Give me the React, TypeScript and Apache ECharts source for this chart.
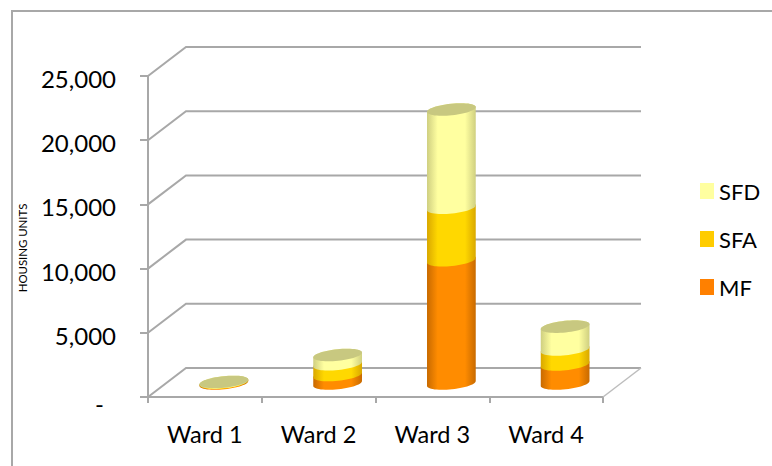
import React, { useEffect, useRef } from "react";
import * as echarts from "echarts";

const categories = ["Ward 1", "Ward 2", "Ward 3", "Ward 4"];
const mf = [60, 660, 9600, 1480];
const sfa = [30, 840, 4090, 1170];
const sfd = [30, 720, 7650, 1780];
const yTicks = [0, 5000, 10000, 15000, 20000, 25000];
const axisMax = 25000;
const axisStep = 5000;
const seriesNames = ["MF", "SFA", "SFD"];
const legendOrder = ["SFD", "SFA", "MF"];
const swatchColors = ["#FF8000", "#FFCC00", "#FFFFA0"];
const centerColors = ["#FF8C00", "#FFD800", "#FFFFA0"];
const edgeColors = ["#C86A00", "#D9A800", "#CFCF80"];

const DEPTH_X = 38;
const DEPTH_Y = 29;
const RX = 24.5;
const RY = 5.8;
const TILT = (-6 * Math.PI) / 180;
const GRAY = "#A8A8A8";
const FONT = "Lato";

function arc(cx: number, cy: number, from: number, to: number) {
  const pts: number[][] = [];
  const n = 28;
  for (let i = 0; i <= n; i++) {
    const t = from + ((to - from) * i) / n;
    const ex = RX * Math.cos(t);
    const ey = RY * Math.sin(t);
    pts.push([cx + ex * Math.cos(TILT) - ey * Math.sin(TILT), cy + ex * Math.sin(TILT) + ey * Math.cos(TILT)]);
  }
  return pts;
}

function stacked(level: number) {
  return categories.map((_, i) => {
    const base = level === 0 ? 0 : level === 1 ? mf[i] : mf[i] + sfa[i];
    const own = [mf, sfa, sfd][level][i];
    return [i, base + own, base];
  });
}

function cylinderSeries(level: number) {
  return {
    type: "custom",
    name: seriesNames[level],
    itemStyle: { color: swatchColors[level] },
    encode: { x: 0, y: 1 },
    data: stacked(level),
    renderItem: (_p: any, api: any) => {
      const idx = api.value(0);
      const topPt = api.coord([idx, api.value(1)]);
      const basePt = api.coord([idx, api.value(2)]);
      const cx = topPt[0] + DEPTH_X / 2;
      const yTop = topPt[1] - DEPTH_Y / 2 + 1;
      const yBase = basePt[1] - DEPTH_Y / 2 + 1;
      const body = [...arc(cx, yBase, Math.PI, 0), ...arc(cx, yTop, 0, -Math.PI)];
      const fill = new echarts.graphic.LinearGradient(0, 0, 1, 0, [
        { offset: 0, color: edgeColors[level] },
        { offset: 0.22, color: centerColors[level] },
        { offset: 0.78, color: centerColors[level] },
        { offset: 1, color: edgeColors[level] },
      ]);
      const children: any[] = [{ type: "polygon", shape: { points: body }, style: { fill } }];
      if (level === 2) {
        children.push({
          type: "polygon",
          shape: { points: [...arc(cx, yTop, 0, Math.PI), ...arc(cx, yTop, Math.PI, 2 * Math.PI)] },
          style: { fill: "#C8C880" },
        });
      }
      return { type: "group", children };
    },
  };
}

const wallSeries = {
  type: "custom",
  name: "walls",
  silent: true,
  encode: { x: 0, y: 1 },
  data: yTicks.map((v) => [0, v]),
  renderItem: (params: any, api: any) => {
    const cs = params.coordSys;
    const y = api.coord([0, api.value(1)])[1];
    const x0 = cs.x;
    const x1 = cs.x + cs.width;
    const line = { stroke: GRAY, lineWidth: 2, fill: "none" };
    const children: any[] = [
      {
        type: "polyline",
        shape: { points: [[x0, y], [x0 + DEPTH_X, y - DEPTH_Y], [x1 + DEPTH_X, y - DEPTH_Y]] },
        style: line,
      },
    ];
    if (api.value(1) === 0) {
      children.push({
        type: "line",
        shape: { x1, y1: y, x2: x1 + DEPTH_X, y2: y - DEPTH_Y },
        style: { stroke: "#BDBDBD", lineWidth: 1.5 },
      });
    }
    return { type: "group", children };
  },
};

export default function App() {
  const ref = useRef<HTMLDivElement>(null);
  useEffect(() => {
    const chart = echarts.init(ref.current!, null, { renderer: "svg" });
    chart.setOption({
      animation: false,
      backgroundColor: "#ffffff",
      grid: { left: 148, top: 76, width: 455, height: 321 },
      xAxis: {
        type: "category",
        data: categories,
        axisLine: { lineStyle: { color: GRAY, width: 2 } },
        axisTick: { show: true, length: 6, lineStyle: { color: GRAY, width: 2 } },
        axisLabel: { color: "#000", fontFamily: FONT, fontSize: 23.5, margin: 25 },
      },
      yAxis: {
        type: "value",
        min: 0,
        max: axisMax,
        interval: axisStep,
        splitLine: { show: false },
        axisLine: { show: true, lineStyle: { color: GRAY, width: 2 } },
        axisTick: { show: true, length: 8, lineStyle: { color: GRAY, width: 2 } },
        axisLabel: {
          color: "#000",
          fontFamily: FONT,
          fontSize: 24,
          margin: 32,
          padding: [5, 0, 0, 0],
          formatter: (v: number) => (v === 0 ? "{d|-}" : v.toLocaleString("en-US")),
          rich: { d: { fontFamily: FONT, fontSize: 24, color: "#000", padding: [7, 12, 0, 0] } },
        },
      },
      legend: {
        data: legendOrder,
        orient: "vertical",
        left: 695,
        top: 175,
        itemWidth: 14,
        itemHeight: 16,
        itemGap: 26,
        icon: "rect",
        textStyle: { color: "#000", fontFamily: FONT, fontSize: 22 },
      },
      graphic: [
        {
          type: "polyline",
          shape: { points: [[12, 466], [12, 11], [772, 11]] },
          style: { stroke: GRAY, lineWidth: 2, fill: "none" },
        },
        {
          type: "text",
          x: 22,
          y: 248,
          rotation: Math.PI / 2,
          style: {
            text: "HOUSING UNITS",
            fontFamily: FONT,
            fontSize: 11.4,
            fill: "#000",
            align: "center",
            verticalAlign: "middle",
          },
        },
      ],
      series: [wallSeries, cylinderSeries(0), cylinderSeries(1), cylinderSeries(2)],
    });
    return () => chart.dispose();
  }, []);
  return <div ref={ref} style={{ position: "absolute", left: 0, top: 0, width: 772, height: 466 }} />;
}
